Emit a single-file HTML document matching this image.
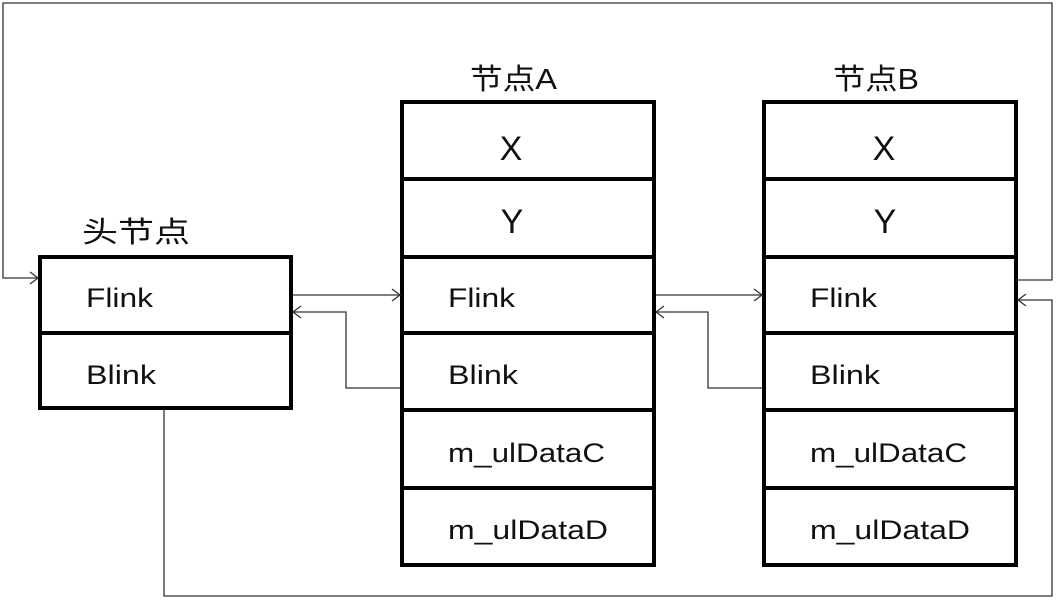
<!DOCTYPE html>
<html><head><style>
body{margin:0;background:#fff;}
svg{display:block}
text{font-family:"Liberation Sans","Noto Sans CJK SC",sans-serif;fill:#111}
</style></head><body>
<svg width="1056" height="600" viewBox="0 0 1056 600">
<g fill="none" stroke="#000" stroke-width="4">
<rect x="40" y="257" width="251" height="151"/>
<line x1="40" y1="333" x2="291" y2="333"/>
<rect x="402" y="102" width="252" height="463"/>
<line x1="402" y1="179" x2="654" y2="179"/>
<line x1="402" y1="257" x2="654" y2="257"/>
<line x1="402" y1="333" x2="654" y2="333"/>
<line x1="402" y1="410" x2="654" y2="410"/>
<line x1="402" y1="488" x2="654" y2="488"/>
<rect x="764" y="102" width="252" height="463"/>
<line x1="764" y1="179" x2="1016" y2="179"/>
<line x1="764" y1="257" x2="1016" y2="257"/>
<line x1="764" y1="333" x2="1016" y2="333"/>
<line x1="764" y1="410" x2="1016" y2="410"/>
<line x1="764" y1="488" x2="1016" y2="488"/>
</g>
<g fill="none" stroke="#333" stroke-width="1.3">
<polyline points="1018,280 1052,280 1052,3 3,3 3,278 38,278"/>
<polyline points="30,272 38,278 30,284"/>
<polyline points="164,410 164,596 1052,596 1052,300 1018,300"/>
<polyline points="1026,294 1018,300 1026,306"/>
<line x1="293" y1="295" x2="400" y2="295"/>
<polyline points="392,289 400,295 392,301"/>
<polyline points="400,388 346,388 346,312 293,312"/>
<polyline points="301,306 293,312 301,318"/>
<line x1="656" y1="295" x2="762" y2="295"/>
<polyline points="754,289 762,295 754,301"/>
<polyline points="762,388 708,388 708,312 656,312"/>
<polyline points="664,306 656,312 664,318"/>
</g>
<g font-size="29">
<text x="82" y="242" textLength="108" lengthAdjust="spacingAndGlyphs">头节点</text>
<text x="470" y="89" textLength="87" lengthAdjust="spacingAndGlyphs">节点A</text>
<text x="833" y="89" textLength="86" lengthAdjust="spacingAndGlyphs">节点B</text>
</g>
<g font-size="34" text-anchor="middle">
<text x="511" y="160">X</text>
<text x="512" y="233">Y</text>
<text x="884" y="160">X</text>
<text x="885" y="233">Y</text>
</g>
<g font-size="27">
<text x="86" y="307" textLength="67" lengthAdjust="spacingAndGlyphs">Flink</text>
<text x="86" y="384" textLength="70" lengthAdjust="spacingAndGlyphs">Blink</text>
<text x="448" y="307" textLength="67" lengthAdjust="spacingAndGlyphs">Flink</text>
<text x="448" y="384" textLength="70" lengthAdjust="spacingAndGlyphs">Blink</text>
<text x="448" y="462" textLength="157" lengthAdjust="spacingAndGlyphs">m_ulDataC</text>
<text x="448" y="539" textLength="160" lengthAdjust="spacingAndGlyphs">m_ulDataD</text>
<text x="810" y="307" textLength="67" lengthAdjust="spacingAndGlyphs">Flink</text>
<text x="810" y="384" textLength="70" lengthAdjust="spacingAndGlyphs">Blink</text>
<text x="810" y="462" textLength="157" lengthAdjust="spacingAndGlyphs">m_ulDataC</text>
<text x="810" y="539" textLength="160" lengthAdjust="spacingAndGlyphs">m_ulDataD</text>
</g>
</svg>
</body></html>
